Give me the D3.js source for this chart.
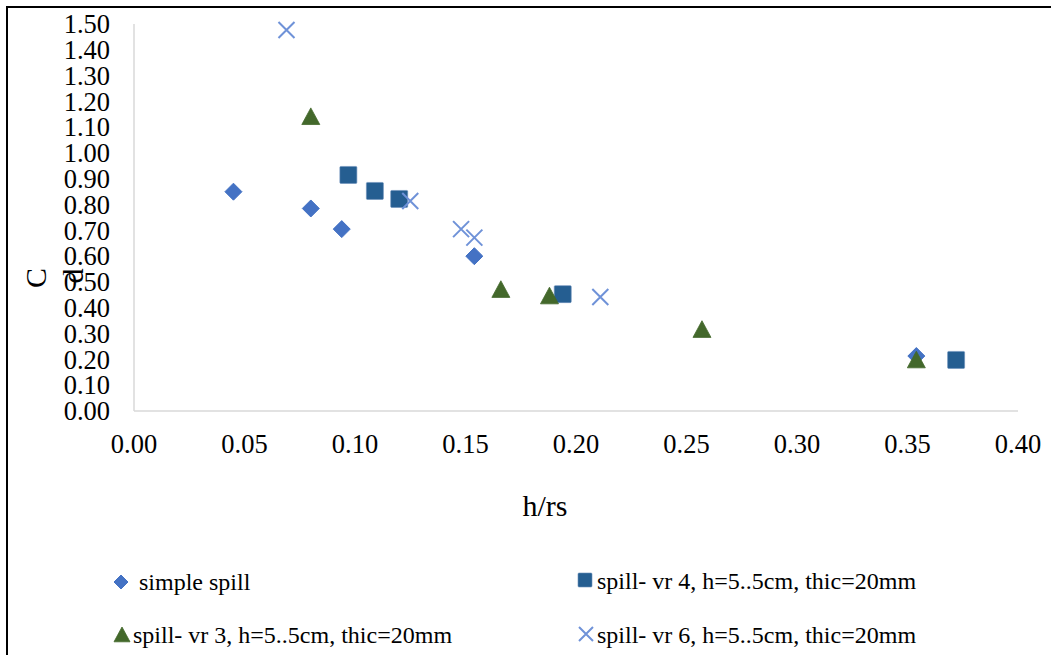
<!DOCTYPE html>
<html>
<head>
<meta charset="utf-8">
<script src="https://d3js.org/d3.v7.min.js"></script>
<style>
  body { margin: 0; background: #fff; }
  text { font-family: "Liberation Serif", "Times New Roman", serif; fill: #000; }
</style>
</head>
<body>
<script>
// data
var simpleX = [0.045, 0.080, 0.094, 0.154, 0.354];
var simpleY = [0.85, 0.785, 0.705, 0.60, 0.213];
var vr4X = [0.097, 0.109, 0.120, 0.194, 0.372];
var vr4Y = [0.915, 0.853, 0.822, 0.453, 0.198];
var vr3X = [0.080, 0.166, 0.188, 0.257, 0.354];
var vr3Y = [1.14, 0.47, 0.445, 0.315, 0.197];
var vr6X = [0.069, 0.125, 0.148, 0.154, 0.211];
var vr6Y = [1.477, 0.814, 0.705, 0.672, 0.442];
var xTicks = [0, 0.05, 0.10, 0.15, 0.20, 0.25, 0.30, 0.35, 0.40];
var yTicks = d3.range(0, 16).map(function(i) { return i / 10; });
var seriesNames = ["simple spill", "spill- vr 4, h=5..5cm, thic=20mm",
                   "spill- vr 3, h=5..5cm, thic=20mm", "spill- vr 6, h=5..5cm, thic=20mm"];

var width = 1051, height = 655;

var svg = d3.select("body").append("svg")
  .attr("width", width)
  .attr("height", height);

// outer frame (top + left only visible)
svg.append("line").attr("x1", 6).attr("x2", width).attr("y1", 7).attr("y2", 7)
  .attr("stroke", "#000").attr("stroke-width", 2);
svg.append("line").attr("x1", 7).attr("x2", 7).attr("y1", 6).attr("y2", height)
  .attr("stroke", "#000").attr("stroke-width", 2);

var x = d3.scaleLinear().domain([0, 0.4]).range([134, 1018]);
var y = d3.scaleLinear().domain([0, 1.5]).range([411, 24]);

// axis lines
svg.append("line").attr("x1", x(0)).attr("x2", x(0.4)).attr("y1", y(0)).attr("y2", y(0))
  .attr("stroke", "#d9d9d9").attr("stroke-width", 1.5);
svg.append("line").attr("x1", x(0)).attr("x2", x(0)).attr("y1", y(0)).attr("y2", y(1.5))
  .attr("stroke", "#d9d9d9").attr("stroke-width", 1.5);

// tick labels
svg.append("g").selectAll("text")
  .data(yTicks).enter().append("text")
  .attr("x", 110)
  .attr("y", function(d) { return y(d); })
  .attr("dy", "0.35em")
  .attr("text-anchor", "end")
  .style("font-size", "26.5px")
  .text(function(d) { return d.toFixed(2); });

svg.append("g").selectAll("text")
  .data(xTicks).enter().append("text")
  .attr("x", function(d) { return x(d); })
  .attr("y", 444)
  .attr("dy", "0.35em")
  .attr("text-anchor", "middle")
  .style("font-size", "26.5px")
  .text(function(d) { return d.toFixed(2); });

// axis titles
svg.append("text")
  .attr("x", 545).attr("y", 505).attr("dy", "0.35em")
  .attr("text-anchor", "middle")
  .style("font-size", "30px")
  .text("h/rs");

svg.append("text")
  .attr("transform", "translate(35,278) rotate(-90)")
  .attr("text-anchor", "middle").attr("dy", "0.35em")
  .style("font-size", "30px")
  .text("C");
svg.append("text")
  .attr("transform", "translate(72,276) rotate(-90)")
  .attr("text-anchor", "middle").attr("dy", "0.35em")
  .style("font-size", "30px")
  .text("d");

// marker shapes
function diamond(g, cx, cy, s) {
  g.append("path")
    .attr("d", "M" + cx + "," + (cy - s) + "L" + (cx + s) + "," + cy + "L" + cx + "," + (cy + s) + "L" + (cx - s) + "," + cy + "Z")
    .attr("fill", "#4472c4").attr("stroke", "#4472c4").attr("stroke-width", 1).attr("stroke-linejoin", "round");
}
function square(g, cx, cy, s) {
  g.append("rect").attr("x", cx - s).attr("y", cy - s).attr("width", 2 * s).attr("height", 2 * s)
    .attr("rx", 1).attr("fill", "#255e91").attr("stroke", "#6a8fba").attr("stroke-width", 0.6);
}
function triangle(g, cx, cy, s) {
  g.append("path")
    .attr("d", "M" + cx + "," + (cy - s) + "L" + (cx + s) + "," + (cy + s * 0.85) + "L" + (cx - s) + "," + (cy + s * 0.85) + "Z")
    .attr("fill", "#43682b").attr("stroke", "#43682b").attr("stroke-width", 0.8);
}
function cross(g, cx, cy, s) {
  g.append("path")
    .attr("d", "M" + (cx - s) + "," + (cy - s) + "L" + (cx + s) + "," + (cy + s) + "M" + (cx - s) + "," + (cy + s) + "L" + (cx + s) + "," + (cy - s))
    .attr("stroke", "#6f92d8").attr("stroke-width", 2).attr("fill", "none");
}

var marks = svg.append("g");
simpleX.forEach(function(d, i) { diamond(marks, x(d), y(simpleY[i]), 8.5); });
vr4X.forEach(function(d, i) { square(marks, x(d), y(vr4Y[i]), 8.5); });
vr3X.forEach(function(d, i) { triangle(marks, x(d), y(vr3Y[i]), 9); });
vr6X.forEach(function(d, i) { cross(marks, x(d), y(vr6Y[i]), 8); });

// legend
var leg = svg.append("g");
diamond(leg, 121, 582, 7);
square(leg, 585, 580, 7);
triangle(leg, 122, 635, 8);
cross(leg, 586, 634, 7);
var legPos = [[139, 582], [597, 581], [133, 635], [597, 635]];
leg.selectAll("text").data(seriesNames).enter().append("text")
  .attr("x", function(d, i) { return legPos[i][0]; })
  .attr("y", function(d, i) { return legPos[i][1]; })
  .attr("dy", "0.35em")
  .style("font-size", "24px")
  .text(function(d) { return d; });
</script>
</body>
</html>
